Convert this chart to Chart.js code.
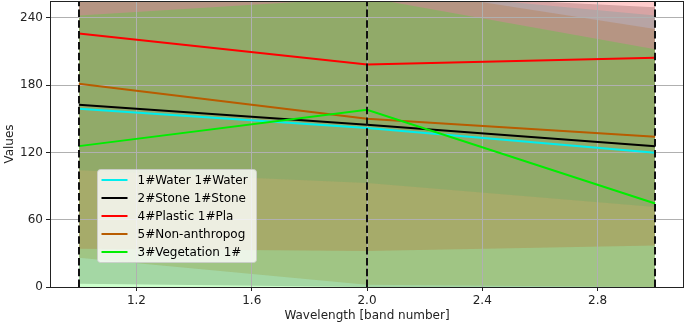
<!DOCTYPE html>
<html>
<head>
<meta charset="utf-8">
<script src="https://cdn.jsdelivr.net/npm/chart.js@4/dist/chart.umd.min.js"></script>
<style>
  html, body { margin: 0; padding: 0; background: #ffffff; }
  canvas { display: block; background: #ffffff; }
</style>
</head>
<body>
<canvas id="c" width="685" height="325"></canvas>
<script>
// ---- data ----
const bands = [1, 2, 3];
const xTicks = [1.2, 1.6, 2.0, 2.4, 2.8];
const yTicks = [0, 60, 120, 180, 240];

const seriesNames = ['1#Water 1#Water', '2#Stone 1#Stone', '4#Plastic 1#Pla', '5#Non-anthropog', '3#Vegetation 1#'];

const waterMean      = [159, 141.7, 119.7];
const stoneMean      = [162.5, 144.7, 125.6];
const plasticMean    = [226, 198.4, 204.4];
const nonAnthroMean  = [181.2, 150, 134];
const vegMean        = [125.6, 158, 74.4];

const waterLow      = [104, 92.7, 71.3];
const waterHigh     = [300, 266, 242];
const stoneLow      = [3, 0, 0];
const stoneHigh     = [300, 262, 249.5];
const plasticLow    = [34.2, 32, 37];
const plasticHigh   = [340, 300, 300];
const nonAnthroLow  = [26, 2, 0];
const nonAnthroHigh = [320, 270, 230];
const vegLow        = [0, 0, 0];
const vegHigh       = [242, 258, 212];

// ---- styling ----
const lineColors = ['#00eeee', '#000000', '#ff0000', '#b85c00', '#00ee00'];
const fillColors = ['rgba(0,255,255,0.2)', 'rgba(0,0,0,0.2)', 'rgba(255,0,0,0.2)', 'rgba(180,90,0,0.2)', 'rgba(0,255,0,0.2)'];
const means = [waterMean, stoneMean, plasticMean, nonAnthroMean, vegMean];
const lows = [waterLow, stoneLow, plasticLow, nonAnthroLow, vegLow];
const highs = [waterHigh, stoneHigh, plasticHigh, nonAnthroHigh, vegHigh];

const pts = arr => bands.map((b, i) => ({x: b, y: arr[i]}));

const datasets = [];
// mean lines first (drawn on top via order)
for (let k = 0; k < 5; k++) {
  datasets.push({
    label: seriesNames[k], data: pts(means[k]), borderColor: lineColors[k],
    borderWidth: 2, pointRadius: 0, fill: false, tension: 0, order: 5 - k
  });
}
// band fills (water drawn first, vegetation on top)
for (let k = 0; k < 5; k++) {
  datasets.push({
    data: pts(lows[k]), borderWidth: 0, pointRadius: 0, fill: false,
    borderColor: 'rgba(0,0,0,0)', order: 100 - k * 10, tension: 0
  });
  datasets.push({
    data: pts(highs[k]), borderWidth: 0, pointRadius: 0, fill: '-1',
    backgroundColor: fillColors[k], borderColor: 'rgba(0,0,0,0)', order: 100 - k * 10, tension: 0
  });
}

const FONT = {family: 'DejaVu Sans', size: 12};

const overlay = {
  id: 'overlay',
  afterDatasetsDraw(chart) {
    const {ctx, chartArea: a, scales: {x}} = chart;
    // dashed band markers
    ctx.save();
    ctx.strokeStyle = '#111';
    ctx.lineWidth = 2;
    ctx.setLineDash([7.5, 3.3]);
    bands.forEach(b => {
      const px = Math.round(x.getPixelForValue(b));
      ctx.beginPath();
      ctx.moveTo(px, a.bottom);
      ctx.lineTo(px, a.top);
      ctx.stroke();
    });
    ctx.restore();

    // legend
    ctx.save();
    const lx = a.left + 47.5, ly = a.top + 168.5, lw = 159, lh = 93;
    ctx.beginPath();
    if (ctx.roundRect) ctx.roundRect(lx, ly, lw, lh, 3); else ctx.rect(lx, ly, lw, lh);
    ctx.fillStyle = 'rgba(255,255,255,0.8)';
    ctx.fill();
    ctx.strokeStyle = 'rgba(204,204,204,0.8)';
    ctx.lineWidth = 1;
    ctx.stroke();
    ctx.font = '12px "DejaVu Sans"';
    ctx.textBaseline = 'middle';
    ctx.fillStyle = '#000';
    seriesNames.forEach((name, i) => {
      const yy = ly + 10.5 + i * 18;
      ctx.strokeStyle = lineColors[i];
      ctx.lineWidth = 2;
      ctx.beginPath();
      ctx.moveTo(lx + 4, yy);
      ctx.lineTo(lx + 30, yy);
      ctx.stroke();
      ctx.fillText(name, lx + 40, yy + 0.5);
    });
    ctx.restore();
  },
  afterDraw(chart) {
    const {ctx, chartArea: a} = chart;
    ctx.save();
    ctx.strokeStyle = '#222';
    ctx.lineWidth = 1;
    ctx.strokeRect(Math.round(a.left) + 0.5, Math.round(a.top) + 0.5,
                   Math.round(a.right - a.left) - 1, Math.round(a.bottom - a.top));
    ctx.restore();
  }
};

new Chart(document.getElementById('c'), {
  type: 'line',
  data: {datasets},
  plugins: [overlay],
  options: {
    responsive: false,
    animation: false,
    devicePixelRatio: 1,
    layout: {padding: {top: 1, right: 1, left: 0, bottom: 0}},
    plugins: {
      legend: {display: false},
      tooltip: {enabled: false},
      filler: {drawTime: 'beforeDraw'}
    },
    scales: {
      x: {
        type: 'linear', min: 0.9, max: 3.1,
        afterBuildTicks: s => { s.ticks = xTicks.map(v => ({value: v})); },
        afterFit: s => { s.height = 38; s.paddingLeft = 0; s.paddingRight = 0; },
        ticks: {font: FONT, color: '#222', padding: 3, maxRotation: 0, callback: v => v.toFixed(1)},
        grid: {color: '#b0b0b0', lineWidth: 1, tickLength: 4, tickColor: '#222'},
        border: {display: false},
        title: {display: true, text: 'Wavelength [band number]', font: FONT, color: '#222', padding: {top: 0, bottom: 2}}
      },
      y: {
        type: 'linear', min: 0, max: 255,
        afterBuildTicks: s => { s.ticks = yTicks.map(v => ({value: v})); },
        afterFit: s => { s.width = 50; s.paddingTop = 0; s.paddingBottom = 0; },
        ticks: {font: FONT, color: '#222', padding: 3},
        grid: {color: '#b0b0b0', lineWidth: 1, tickLength: 4, tickColor: '#222'},
        border: {display: false},
        title: {display: true, text: 'Values', font: FONT, color: '#222', padding: {top: 3, bottom: 0}}
      }
    }
  }
});
</script>
</body>
</html>
